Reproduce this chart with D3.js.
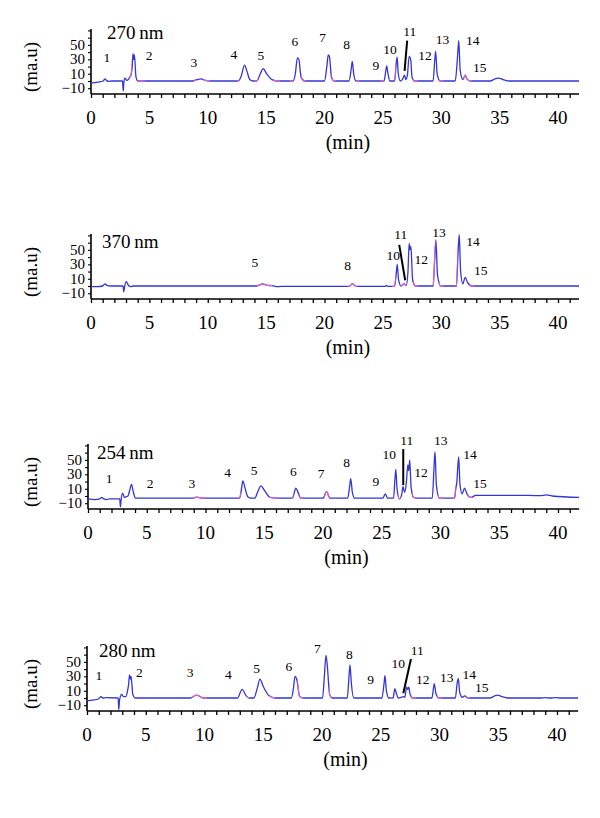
<!DOCTYPE html>
<html><head><meta charset="utf-8">
<script src="https://cdn.jsdelivr.net/npm/d3@7/dist/d3.min.js"></script>
<style>
html,body{margin:0;padding:0;background:#fff;}
svg{display:block;}
</style>
</head><body>
<svg id="chart" width="600" height="818"></svg>
<script>
// ---------- DATA ----------
const wavelengths = ["270\u2009nm", "370\u2009nm", "254\u2009nm", "280\u2009nm"];
const xTickValues = [0, 5, 10, 15, 20, 25, 30, 35, 40];
const yTickLabels = [-10, 10, 30, 50];

// traces: [time (min), signal (ma.u)]
const trace270 = [[0,-3],[0.6,-1.5],[1.05,0],[1.2,3],[1.35,0.5],[1.5,-0.5],[1.8,0],[2.7,0],[2.76,-14],[2.82,-1],[2.92,4],[3.05,1],[3.2,2],[3.3,5],[3.42,8],[3.52,18],[3.6,38],[3.66,30],[3.72,36],[3.85,6],[4.0,0],[8.7,0],[9.1,2],[9.4,3],[9.8,1],[10.2,0],[12.6,0],[12.85,6],[13.15,22],[13.35,14],[13.6,2],[13.9,0],[14.2,0],[14.5,10],[14.75,17],[15.05,10],[15.5,2],[16.0,0],[17.3,0],[17.5,10],[17.68,32],[17.8,30],[18.0,5],[18.3,0],[20.0,0],[20.2,20],[20.32,36],[20.42,34],[20.6,5],[20.85,0],[22.1,0],[22.3,18],[22.38,27],[22.5,10],[22.7,0],[25.1,0],[25.25,14],[25.33,21],[25.42,12],[25.6,0],[26.0,0],[26.15,25],[26.22,33],[26.32,10],[26.5,0],[26.7,3],[26.85,8],[26.97,2],[27.1,8],[27.25,34],[27.38,30],[27.5,5],[27.7,0],[29.3,0],[29.45,30],[29.52,41],[29.65,10],[29.9,0],[31.2,0],[31.4,35],[31.5,56],[31.62,15],[31.85,2],[32.05,8],[32.2,3],[32.5,0],[34.2,0],[34.6,3],[34.9,4],[35.3,2],[35.8,0],[41.8,0]];
const trace370 = [[0,-1],[0.5,-1],[1.0,0],[1.2,3],[1.4,0.5],[1.7,0],[2.75,0],[2.8,-8],[2.88,-1],[3.02,6],[3.2,1],[3.4,-1],[3.6,0],[14.2,0],[14.7,3],[15.1,1],[15.5,0.5],[16.0,-1],[16.3,-0.5],[22.1,-0.5],[22.4,3],[22.7,-0.5],[25.2,-0.5],[25.3,1],[25.4,-0.5],[26.0,-0.5],[26.15,18],[26.23,30],[26.35,8],[26.55,0],[26.8,3],[27.0,0.5],[27.15,20],[27.25,59],[27.33,50],[27.4,55],[27.55,8],[27.8,0],[29.3,0],[29.45,40],[29.54,64],[29.68,15],[29.95,0],[31.3,0],[31.45,50],[31.54,71],[31.66,20],[31.85,3],[32.05,12],[32.25,5],[32.6,0],[34.0,0],[41.8,0]];
const trace254 = [[0,-4],[0.6,-5],[1.0,-4],[1.17,-2],[1.35,-4],[1.6,-5],[1.8,-4],[2.7,-4],[2.76,-15],[2.82,-5],[2.95,4],[3.1,-2],[3.25,-1],[3.4,0],[3.55,8],[3.7,16],[3.85,6],[4.05,-3],[8.9,-3],[9.25,-1.5],[9.7,-3],[12.9,-3],[13.05,8],[13.17,21],[13.35,12],[13.6,-1],[13.9,-3],[14.2,-3],[14.45,6],[14.72,14],[15.0,8],[15.5,-2],[16.0,-3],[17.4,-3],[17.55,4],[17.68,11],[17.85,6],[18.1,-3],[20.0,-3],[20.3,6],[20.6,-3],[22.1,-3],[22.28,15],[22.36,24],[22.5,5],[22.7,-3],[25.1,-3],[25.3,3],[25.5,-3],[26.0,-3],[26.13,25],[26.2,37],[26.3,10],[26.5,-4],[26.7,2],[26.8,13],[26.95,5],[27.1,20],[27.22,43],[27.3,35],[27.38,50],[27.5,12],[27.7,-2],[28.0,-3],[29.3,-3],[29.45,40],[29.53,61],[29.65,15],[29.9,-3],[31.2,-3],[31.3,10],[31.4,21],[31.47,40],[31.55,54],[31.66,15],[31.85,3],[32.05,11],[32.25,3],[32.6,-2],[33.0,1],[36.5,1],[38.5,0.5],[39.0,1.5],[39.5,0],[41.8,-2]];
const trace280 = [[0,-4],[0.5,-3],[1.0,-1],[1.19,2],[1.35,0],[1.6,0.5],[2.65,0],[2.7,-16],[2.78,-2],[2.95,5],[3.1,2],[3.3,2],[3.45,10],[3.55,20],[3.62,32],[3.7,26],[3.75,30],[3.9,5],[4.1,0],[8.8,0],[9.33,4],[9.9,0],[12.8,0],[13.2,12],[13.55,3],[13.8,0],[14.2,0],[14.5,14],[14.72,26],[15.0,16],[15.5,3],[16.0,0],[17.4,0],[17.58,15],[17.7,30],[17.85,26],[18.1,2],[18.4,0],[20.05,0],[20.2,30],[20.34,59],[20.45,45],[20.65,5],[20.9,0],[22.15,0],[22.3,30],[22.38,46],[22.5,20],[22.7,0],[25.1,0],[25.28,20],[25.36,31],[25.48,10],[25.7,0],[26.05,0],[26.2,13],[26.3,8],[26.5,0],[26.75,1],[26.9,2],[27.05,1],[27.2,15],[27.3,12],[27.38,15],[27.5,5],[27.7,0],[29.35,0],[29.5,15],[29.55,20],[29.7,6],[29.95,0],[31.35,0],[31.5,20],[31.6,27],[31.72,8],[31.95,1],[32.15,3],[32.4,0],[34.3,0],[34.7,3],[34.95,4],[35.3,2],[35.8,0],[38.6,0],[39.0,0.5],[39.4,0],[39.9,0.5],[40.3,0],[41.8,0]];

// integration marks (pink) [from, to] in min
const pink270 = [[3.3,3.5],[4.0,4.6],[8.8,9.0],[9.6,10.2],[12.5,12.7],[14.0,14.3],[15.6,16.2],[17.0,17.3],[18.0,18.4],[20.6,21.0],[22.7,23.0],[24.8,25.1],[26.0,26.1],[27.6,28.0],[29.8,30.2],[31.9,32.6]];
const pink370 = [[14.2,15.5],[22.0,22.8],[25.8,26.1],[26.5,27.0],[27.6,28.0],[29.3,29.5],[29.8,30.2],[31.2,31.4],[32.4,32.8]];
const pink254 = [[8.9,10.0],[12.8,13.0],[15.5,16.2],[17.3,17.5],[18.0,18.3],[20.1,20.6],[26.4,26.6],[27.6,28.0],[29.8,30.3],[31.0,31.3],[32.3,32.7]];
const pink280 = [[8.9,10.2],[13.6,13.8],[15.5,16.0],[17.9,18.4],[20.6,20.8],[25.8,26.0],[27.6,28.0],[29.8,30.2],[32.3,32.6]];

// peak labels: [text, time, signal]
const labels270 = [["1",1.37,33],["2",4.97,36],["3",8.82,26],["4",12.24,37],["5",14.55,35],["6",17.47,55],["7",19.84,60],["8",21.9,51],["9",24.4,22],["10",25.6,43],["11",27.3,68],["12",28.6,36],["13",30.1,57],["14",32.7,56],["15",33.3,19]];
const labels370 = [["5",14.04,32],["8",21.98,28],["10",25.88,42],["11",26.54,71],["12",28.28,37],["13",29.8,74],["14",32.73,61],["15",33.39,22]];
const labels254 = [["1",1.79,24.5],["2",5.28,17.6],["3",8.83,17.6],["4",11.89,33],["5",14.13,36],["6",17.47,34],["7",19.83,31],["8",22.02,46],["9",24.51,20],["10",25.64,58],["11",27.12,77],["12",28.34,33],["13",30.02,77],["14",32.51,58],["15",33.36,17.6]];
const labels280 = [["1",1.02,30.5],["2",4.45,35],["3",8.77,35],["4",12.03,32],["5",14.44,41],["6",17.19,44],["7",19.6,68],["8",22.32,60],["9",24.14,26],["10",26.49,48],["11",28.1,65.5],["12",28.57,26],["13",30.61,29],["14",32.54,33],["15",33.59,15]];

// leader line for peak 11: [[t1,v1],[t2,v2]]
const lead270 = [[27.08,56],[26.86,14]];
const lead370 = [[26.4,57],[26.91,8]];
const lead254 = [[26.83,65],[26.83,15]];
const lead280 = [[27.57,54],[26.92,6.5]];

const traces = [trace270, trace370, trace254, trace280];
const pinks = [pink270, pink370, pink254, pink280];
const peakLabels = [labels270, labels370, labels254, labels280];
const leads = [lead270, lead370, lead254, lead280];

// ---------- LAYOUT ----------
const axisYs = [94, 299, 509, 711];
const x0s = [91, 91, 88, 87];
const x40s = [558, 558, 558, 557];
const wlX = [107, 102, 97, 99];
const wlDy = [3, 7, 8, 4];
const plotH = 65;
const serif = "'Liberation Serif','DejaVu Serif',serif";
const blue = "#3535d6";
const pinkCol = "#e066cc";

const svg = d3.select("#chart");

wavelengths.forEach((wl, i) => {
  const ay = axisYs[i];
  const pxPerMin = (x40s[i] - x0s[i]) / 40;
  const x = d3.scaleLinear().domain([0, 41.8]).range([x0s[i], x0s[i] + 41.8 * pxPerMin]);
  const y = d3.scaleLinear().domain([-18, 72]).range([ay, ay - plotH]);
  const g = svg.append("g");

  // x axis
  const xAxis = d3.axisBottom(x).tickValues(d3.range(0, 42, 1)).tickSize(4).tickFormat("");
  const gx = g.append("g").attr("transform", `translate(0,${ay})`).call(xAxis);
  gx.select(".domain").attr("stroke", "#000").attr("stroke-width", 1.6).attr("d", `M${x(0)},0H${x(41.8)}`);
  gx.selectAll(".tick line").attr("stroke", "#000").attr("stroke-width", 1.3);
  g.selectAll(".xlab").data(xTickValues).enter().append("text")
    .attr("x", d => x(d)).attr("y", ay + 30)
    .attr("text-anchor", "middle")
    .attr("font-family", serif).attr("font-size", 19).attr("fill", "#000")
    .text(d => d);

  // y axis
  const yAxis = d3.axisLeft(y).tickValues(d3.range(-10, 71, 10)).tickSize(3).tickFormat("");
  const gy = g.append("g").attr("transform", `translate(${x(0)},0)`).call(yAxis);
  gy.select(".domain").attr("stroke", "#000").attr("stroke-width", 1.6).attr("d", `M0,${y(72)}V${y(-18)}`);
  gy.selectAll(".tick line").attr("stroke", "#000").attr("stroke-width", 1.1);
  g.selectAll(".ylab").data(yTickLabels).enter().append("text")
    .attr("x", x(0) - 6).attr("y", d => y(d) + 5)
    .attr("text-anchor", "end")
    .attr("font-family", serif).attr("font-size", 15).attr("fill", "#000")
    .text(d => d < 0 ? "\u2212" + Math.abs(d) : d);

  // axis titles
  g.append("text")
    .attr("transform", `translate(30,${ay - 27}) rotate(-90)`)
    .attr("text-anchor", "middle").attr("dominant-baseline", "central")
    .attr("font-family", serif).attr("font-size", 19).attr("fill", "#000")
    .text("(ma.u)");
  g.append("text")
    .attr("x", x(22)).attr("y", ay + 55)
    .attr("text-anchor", "middle")
    .attr("font-family", serif).attr("font-size", 20).attr("fill", "#000")
    .text("(min)");

  // wavelength label
  g.append("text")
    .attr("x", wlX[i])
    .attr("y", y(72) + wlDy[i])
    .attr("font-family", serif).attr("font-size", 19).attr("fill", "#000")
    .attr("dominant-baseline", "central")
    .text(wl);

  // trace
  const line = d3.line().x(d => x(d[0])).y(d => y(d[1])).curve(d3.curveMonotoneX);
  g.append("path").datum(traces[i])
    .attr("d", line).attr("fill", "none")
    .attr("stroke", blue).attr("stroke-width", 1.3).attr("stroke-linejoin", "round");

  // pink integration segments
  const clipId = "pclip" + i;
  const cp = svg.append("clipPath").attr("id", clipId);
  cp.selectAll("rect").data(pinks[i]).enter().append("rect")
    .attr("x", d => x(d[0])).attr("width", d => x(d[1]) - x(d[0]))
    .attr("y", y(72) - 5).attr("height", plotH + 10);
  g.append("path").datum(traces[i])
    .attr("d", line).attr("fill", "none")
    .attr("clip-path", `url(#${clipId})`)
    .attr("stroke", pinkCol).attr("stroke-width", 1.3);

  // peak labels
  g.selectAll(".pl").data(peakLabels[i]).enter().append("text")
    .attr("x", d => x(d[1])).attr("y", d => y(d[2]))
    .attr("text-anchor", "middle").attr("dominant-baseline", "central")
    .attr("font-family", serif).attr("font-size", 13.5).attr("fill", "#000")
    .text(d => d[0]);

  // leader line for peak 11
  g.append("line")
    .attr("x1", x(leads[i][0][0])).attr("y1", y(leads[i][0][1]))
    .attr("x2", x(leads[i][1][0])).attr("y2", y(leads[i][1][1]))
    .attr("stroke", "#000").attr("stroke-width", 2);
});
</script>
</body></html>
